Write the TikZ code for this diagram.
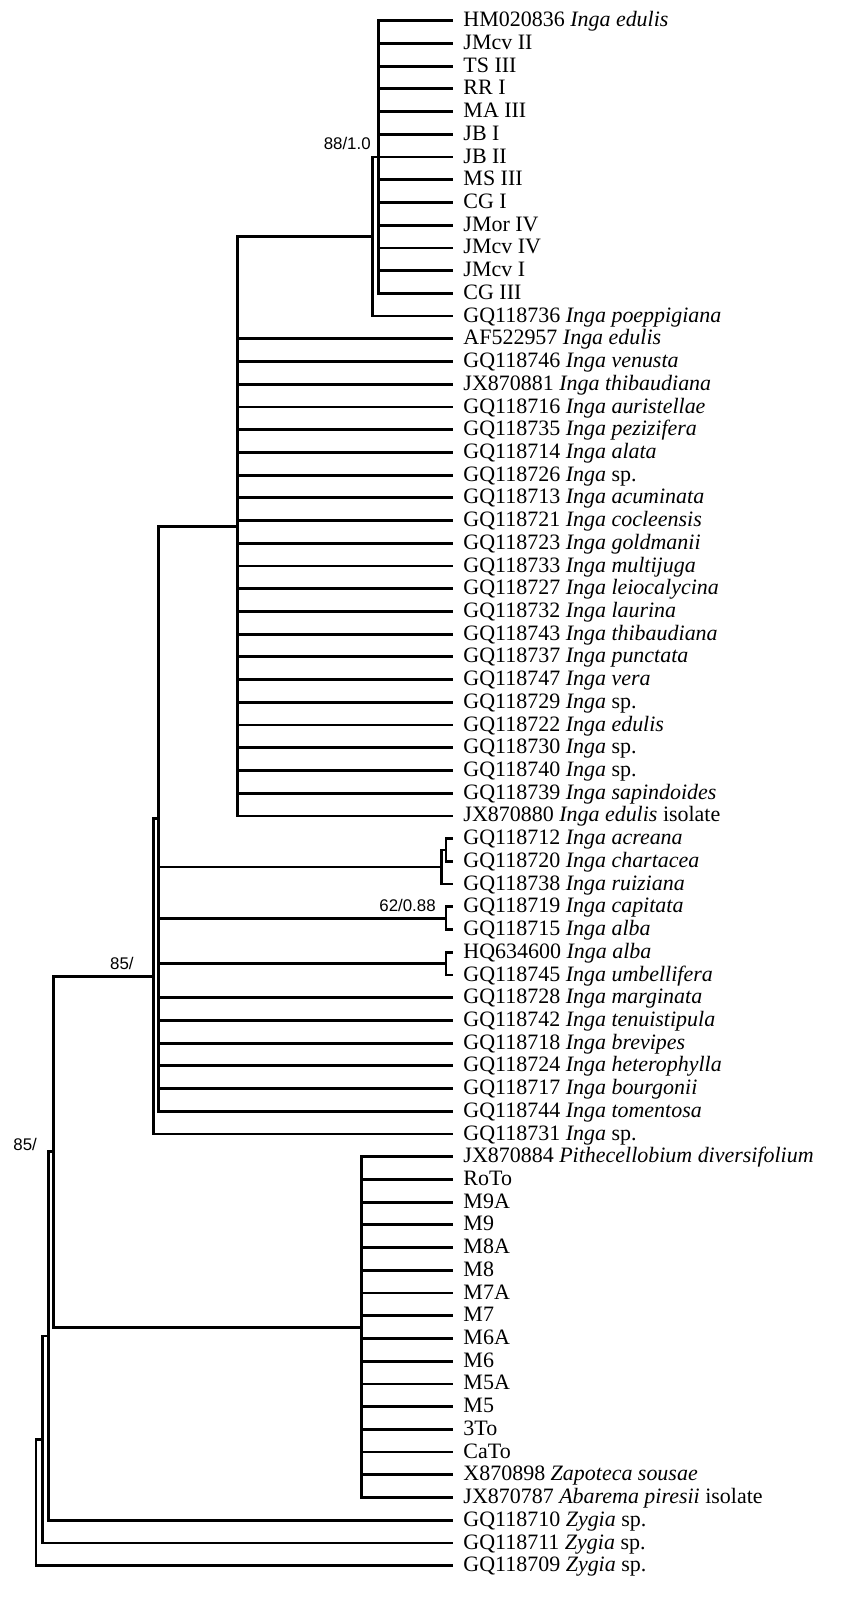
\documentclass[tikz,border=0pt]{standalone}
\usepackage{fontspec}
\setmainfont{Liberation Serif}
\newfontfamily\suppfont{Liberation Sans}
\usepackage{tikz}

\begin{document}
\begin{tikzpicture}[x=0.02cm, y=-0.4544cm, line width=1.6pt,
    leaf/.style={anchor=west, inner xsep=0.19cm, inner ysep=0, text height=0.93em, text depth=0.24em,
      font=\fontsize{12.5}{14}\selectfont},
    supp/.style={anchor=south east, inner sep=0, text depth=0, font=\suppfont\fontsize{9.6}{11}\selectfont}]
      \def\tip{452.5}
      \useasboundingbox (0,0.0889) rectangle (850,71.216);

      \foreach \lab [count=\i] in {
        {HM020836 \textit{Inga edulis}}, {JMcv II}, {TS III}, {RR I}, {MA III}, {JB I}, {JB II},
        {MS III}, {CG I}, {JMor IV}, {JMcv IV}, {JMcv I}, {CG III},
        {GQ118736 \textit{Inga poeppigiana}}, {AF522957 \textit{Inga edulis}},
        {GQ118746 \textit{Inga venusta}}, {JX870881 \textit{Inga thibaudiana}},
        {GQ118716 \textit{Inga auristellae}}, {GQ118735 \textit{Inga pezizifera}},
        {GQ118714 \textit{Inga alata}}, {GQ118726 \textit{Inga} sp.},
        {GQ118713 \textit{Inga acuminata}}, {GQ118721 \textit{Inga cocleensis}},
        {GQ118723 \textit{Inga goldmanii}}, {GQ118733 \textit{Inga multijuga}},
        {GQ118727 \textit{Inga leiocalycina}}, {GQ118732 \textit{Inga laurina}},
        {GQ118743 \textit{Inga thibaudiana}}, {GQ118737 \textit{Inga punctata}},
        {GQ118747 \textit{Inga vera}}, {GQ118729 \textit{Inga} sp.},
        {GQ118722 \textit{Inga edulis}}, {GQ118730 \textit{Inga} sp.},
        {GQ118740 \textit{Inga} sp.}, {GQ118739 \textit{Inga sapindoides}},
        {JX870880 \textit{Inga edulis} isolate},
        {GQ118712 \textit{Inga acreana}}, {GQ118720 \textit{Inga chartacea}},
        {GQ118738 \textit{Inga ruiziana}}, {GQ118719 \textit{Inga capitata}},
        {GQ118715 \textit{Inga alba}}, {HQ634600 \textit{Inga alba}},
        {GQ118745 \textit{Inga umbellifera}}, {GQ118728 \textit{Inga marginata}},
        {GQ118742 \textit{Inga tenuistipula}}, {GQ118718 \textit{Inga brevipes}},
        {GQ118724 \textit{Inga heterophylla}}, {GQ118717 \textit{Inga bourgonii}},
        {GQ118744 \textit{Inga tomentosa}}, {GQ118731 \textit{Inga} sp.},
        {JX870884 \textit{Pithecellobium diversifolium}}, {RoTo}, {M9A}, {M9}, {M8A}, {M8},
        {M7A}, {M7}, {M6A}, {M6}, {M5A}, {M5}, {3To}, {CaTo},
        {X870898 \textit{Zapoteca sousae}}, {JX870787 \textit{Abarema piresii} isolate},
        {GQ118710 \textit{Zygia} sp.}, {GQ118711 \textit{Zygia} sp.}, {GQ118709 \textit{Zygia} sp.}}
        \node[leaf] (l\i) at (\tip,\i) {\lab};

      \coordinate (nA) at (378.5,7);
      \coordinate (nB) at (372.3,10.5);
      \coordinate (nC) at (237.7,23.25);
      \coordinate (nK) at (446,37.5);
      \coordinate (nL) at (441.7,38.25);
      \coordinate (nM) at (446,40.5);
      \coordinate (nN) at (446,42.5);
      \coordinate (nD) at (158.3,36.125);
      \coordinate (nE) at (153.3,43.0625);
      \coordinate (nG) at (361.7,58.5);
      \coordinate (nF) at (53.3,50.78125);
      \coordinate (nH) at (48.3,58.890625);
      \coordinate (nI) at (42.3,63.4453125);
      \coordinate (nJ) at (36,66.22265625);

      \foreach \i in {1,...,13} \draw (nA) |- (l\i.west);
      \draw (nB) |- (nA);
      \draw (nB) |- (l14.west);
      \draw (nC) |- (nB);
      \foreach \i in {15,...,36} \draw (nC) |- (l\i.west);
      \draw (nK) |- (l37.west);
      \draw (nK) |- (l38.west);
      \draw (nL) |- (nK);
      \draw (nL) |- (l39.west);
      \draw (nM) |- (l40.west);
      \draw (nM) |- (l41.west);
      \draw (nN) |- (l42.west);
      \draw (nN) |- (l43.west);
      \draw (nD) |- (nC);
      \draw (nD) |- (nL);
      \draw (nD) |- (nM);
      \draw (nD) |- (nN);
      \foreach \i in {44,...,49} \draw (nD) |- (l\i.west);
      \draw (nE) |- (nD);
      \draw (nE) |- (l50.west);
      \foreach \i in {51,...,66} \draw (nG) |- (l\i.west);
      \draw (nF) |- (nE);
      \draw (nF) |- (nG);
      \draw (nH) |- (nF);
      \draw (nH) |- (l67.west);
      \draw (nI) |- (nH);
      \draw (nI) |- (l68.west);
      \draw (nJ) |- (nI);
      \draw (nJ) |- (l69.west);

      \node[supp] (s88) at (372,6.72) {88/1.0};
      \node[supp] (s62) at (437,40.29) {62/0.88};
      \node[supp] (s85a) at (135,42.8) {85/};
      \node[supp] (s85b) at (38.3,50.78) {85/};
\end{tikzpicture}
\end{document}
